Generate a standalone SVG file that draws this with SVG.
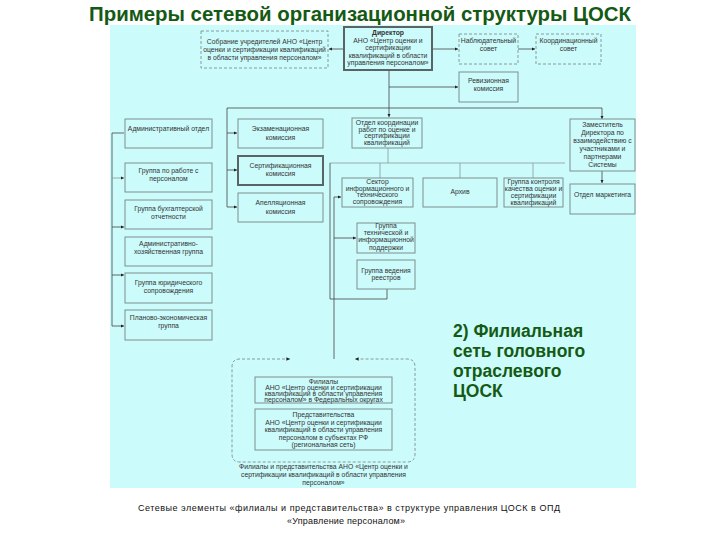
<svg xmlns="http://www.w3.org/2000/svg" width="720" height="540" viewBox="0 0 720 540">
<defs>
<marker id="ah" viewBox="0 0 6 6" refX="6" refY="3" markerWidth="4" markerHeight="4" orient="auto-start-reverse">
<path d="M0,0 L6,3 L0,6 Z" fill="#222"/>
</marker>
<style>
.bx{fill:none;stroke:#7f8f8f;stroke-width:1}
.bk{fill:none;stroke:#5a6464;stroke-width:2}
.ds{fill:none;stroke:#7f8f8f;stroke-width:0.9;stroke-dasharray:3,2}
.t{font-family:"Liberation Sans",Arial,sans-serif;font-size:6.8px;fill:#333;text-anchor:middle}
.tb{font-weight:bold}
.c{fill:none;stroke:#444;stroke-width:0.8}
.cl{fill:none;stroke:#8a9a9a;stroke-width:0.8}
.a{marker-end:url(#ah)}
.ttl{font-family:"Liberation Sans",Arial,sans-serif;font-weight:bold;fill:#145a14}
.cap{font-family:"Liberation Sans",Arial,sans-serif;font-size:9px;fill:#111;text-anchor:middle}
</style>
</defs>
<rect width="720" height="540" fill="#ffffff"/>
<rect x="110" y="25" width="526" height="463" fill="#ccfbfb"/>
<text class="ttl" x="360" y="21" font-size="20.4" text-anchor="middle">Примеры сетевой организационной структуры ЦОСК</text>

<g id="connectors">
<path class="c a" d="M343,49 H329"/>
<path class="c a" d="M432,49 H458"/>
<path class="c a" d="M518,49 H535"/>
<path class="c a" d="M389,70 V117"/>
<path class="c a" d="M389,87 H458"/>
<path class="c" d="M227,108 H602"/>
<path class="c a" d="M602,108 V119"/>
<path class="c" d="M227,108 V207"/>
<path class="c a" d="M227,133 H237"/>
<path class="c a" d="M227,170 H237"/>
<path class="c a" d="M227,207 H237"/>
<path class="c" d="M112,133 V326"/>
<path class="c" d="M112,133 H124"/>
<path class="cl a" d="M112,178 H124"/>
<path class="c a" d="M112,227 H124"/>
<path class="c a" d="M112,275 H124"/>
<path class="c a" d="M112,326 H124"/>
<path class="cl" d="M388,148 V163"/>
<path class="cl" d="M330,163 H565"/>
<path class="cl" d="M380,163 V178 M460,163 V178 M533,163 V178"/>
<path class="c" d="M330,163 V299 H387 V289"/>
<path class="c" d="M334,197 V359"/>
<path class="c a" d="M334,197 H341"/>
<path class="c a" d="M334,238 H356"/>
<path class="c a" d="M602,171 V183"/>
<path class="ds" marker-start="url(#ah)" marker-end="url(#ah)" d="M290,359 H240 Q232,359 232,367 V454 Q232,462 240,462 H407 Q415,462 415,454 V367 Q415,359 407,359 H355"/>
</g>

<g id="sobranie">
<rect class="ds" x="201" y="31" width="127" height="37"/>
<text class="t" x="264.5" y="44">Собрание учредителей АНО «Центр</text>
<text class="t" x="264.5" y="52">оценки и сертификации квалификаций</text>
<text class="t" x="264.5" y="60">в области управления персоналом»</text>
</g>
<g id="director">
<rect class="bk" x="344" y="27" width="88" height="43"/>
<text class="t tb" x="388" y="35">Директор</text>
<text class="t" x="388" y="43">АНО «Центр оценки и</text>
<text class="t" x="388" y="50">сертификации</text>
<text class="t" x="388" y="58">квалификаций в области</text>
<text class="t" x="388" y="65">управления персоналом»</text>
</g>
<g id="nabl">
<rect class="ds" x="459" y="34" width="59" height="30"/>
<text class="t" x="488.5" y="43">Наблюдательный</text>
<text class="t" x="488.5" y="51">совет</text>
</g>
<g id="koord">
<rect class="ds" x="536" y="34" width="65" height="30"/>
<text class="t" x="568.5" y="43">Координационный</text>
<text class="t" x="568.5" y="51">совет</text>
</g>
<g id="reviz">
<rect class="bx" x="459" y="72" width="59" height="30"/>
<text class="t" x="488.5" y="83">Ревизионная</text>
<text class="t" x="488.5" y="91">комиссия</text>
</g>

<g id="adm">
<rect class="bx" x="125" y="119" width="87" height="29"/>
<text class="t" x="168.5" y="131">Административный отдел</text>
</g>
<g id="kadr">
<rect class="bx" x="125" y="163" width="87" height="29"/>
<text class="t" x="168.5" y="173">Группа по работе с</text>
<text class="t" x="168.5" y="181">персоналом</text>
</g>
<g id="buh">
<rect class="bx" x="125" y="200" width="87" height="29"/>
<text class="t" x="168.5" y="211">Группа бухгалтерской</text>
<text class="t" x="168.5" y="219">отчетности</text>
</g>
<g id="ahg">
<rect class="bx" x="125" y="237" width="87" height="29"/>
<text class="t" x="168.5" y="246">Административно-</text>
<text class="t" x="168.5" y="254">хозяйственная группа</text>
</g>
<g id="yur">
<rect class="bx" x="125" y="273" width="87" height="30"/>
<text class="t" x="168.5" y="285">Группа юридического</text>
<text class="t" x="168.5" y="293">сопровождения</text>
</g>
<g id="plan">
<rect class="bx" x="125" y="310" width="87" height="30"/>
<text class="t" x="168.5" y="320">Планово-экономическая</text>
<text class="t" x="168.5" y="328">группа</text>
</g>

<g id="ekz">
<rect class="bx" x="238" y="119" width="85" height="29"/>
<text class="t" x="280.5" y="131">Экзаменационная</text>
<text class="t" x="280.5" y="140">комиссия</text>
</g>
<g id="sert">
<rect class="bk" x="238" y="156" width="85" height="29" stroke-width="1.5"/>
<text class="t" x="280.5" y="168">Сертификационная</text>
<text class="t" x="280.5" y="176">комиссия</text>
</g>
<g id="apel">
<rect class="bx" x="238" y="193" width="85" height="29"/>
<text class="t" x="280.5" y="205">Апелляционная</text>
<text class="t" x="280.5" y="214">комиссия</text>
</g>

<g id="otdkoord">
<rect class="bx" x="352" y="118" width="70" height="30"/>
<text class="t" x="387" y="125">Отдел координации</text>
<text class="t" x="387" y="131.5">работ по оценке и</text>
<text class="t" x="387" y="138">сертификации</text>
<text class="t" x="387" y="144.5">квалификаций</text>
</g>
<g id="zam">
<rect class="bx" x="570" y="119" width="65" height="52"/>
<text class="t" x="602.5" y="127">Заместитель</text>
<text class="t" x="602.5" y="135">Директора по</text>
<text class="t" x="602.5" y="143">взаимодействию с</text>
<text class="t" x="602.5" y="151">участниками и</text>
<text class="t" x="602.5" y="159">партнерами</text>
<text class="t" x="602.5" y="167">Системы</text>
</g>
<g id="sektor">
<rect class="bx" x="342" y="178" width="71" height="29"/>
<text class="t" x="377.5" y="184">Сектор</text>
<text class="t" x="377.5" y="190.5">информационного и</text>
<text class="t" x="377.5" y="197">технического</text>
<text class="t" x="377.5" y="203.5">сопровождения</text>
</g>
<g id="arhiv">
<rect class="bx" x="423" y="178" width="74" height="29"/>
<text class="t" x="460" y="194">Архив</text>
</g>
<g id="kontrol">
<rect class="bx" x="504" y="178" width="59" height="29"/>
<text class="t" x="533.5" y="184">Группа контроля</text>
<text class="t" x="533.5" y="191">качества оценки и</text>
<text class="t" x="533.5" y="198">сертификации</text>
<text class="t" x="533.5" y="205">квалификаций</text>
</g>
<g id="market">
<rect class="bx" x="570" y="184" width="65" height="30"/>
<text class="t" x="602.5" y="197">Отдел маркетинга</text>
</g>
<g id="tehn">
<rect class="bx" x="357" y="223" width="58" height="30"/>
<text class="t" x="386" y="228">Группа</text>
<text class="t" x="386" y="235">технической и</text>
<text class="t" x="386" y="242">информационной</text>
<text class="t" x="386" y="249.5">поддержки</text>
</g>
<g id="reestr">
<rect class="bx" x="357" y="260" width="58" height="29"/>
<text class="t" x="386" y="273">Группа ведения</text>
<text class="t" x="386" y="280">реестров</text>
</g>

<g id="filialy">
<rect class="bx" x="255" y="377" width="137" height="26"/>
<text class="t" x="323.5" y="383.5" font-size="6.5">Филиалы</text>
<text class="t" x="323.5" y="390" font-size="6.5">АНО «Центр оценки и сертификации</text>
<text class="t" x="323.5" y="396" font-size="6.5">квалификаций в области управления</text>
<text class="t" x="323.5" y="402" font-size="6.5">персоналом» в Федеральных округах</text>
</g>
<g id="predst">
<rect class="bx" x="255" y="409" width="137" height="41"/>
<text class="t" x="323.5" y="417" font-size="6.5">Представительства</text>
<text class="t" x="323.5" y="424.5" font-size="6.5">АНО «Центр оценки и сертификации</text>
<text class="t" x="323.5" y="432" font-size="6.5">квалификаций в области управления</text>
<text class="t" x="323.5" y="439.5" font-size="6.5">персоналом в субъектах РФ</text>
<text class="t" x="323.5" y="447" font-size="6.5">(региональная сеть)</text>
</g>
<g id="netcaption">
<text class="t" x="323.5" y="469" font-size="6.5">Филиалы и представительства АНО «Центр оценки и</text>
<text class="t" x="323.5" y="477" font-size="6.5">сертификации квалификаций в области управления</text>
<text class="t" x="323.5" y="485" font-size="6.5">персоналом»</text>
</g>

<g id="label2">
<text class="ttl" x="453" y="337" font-size="17.5">2) Филиальная</text>
<text class="ttl" x="453" y="357" font-size="17.5">сеть головного</text>
<text class="ttl" x="453" y="377" font-size="17.5">отраслевого</text>
<text class="ttl" x="453" y="397" font-size="17.5">ЦОСК</text>
</g>

<g id="caption">
<text class="cap" x="349" y="511" textLength="422" lengthAdjust="spacing">Сетевые элементы «филиалы и представительства» в структуре управления ЦОСК в ОПД</text>
<text class="cap" x="346" y="524" textLength="118" lengthAdjust="spacing">«Управление персоналом»</text>
</g>
</svg>
